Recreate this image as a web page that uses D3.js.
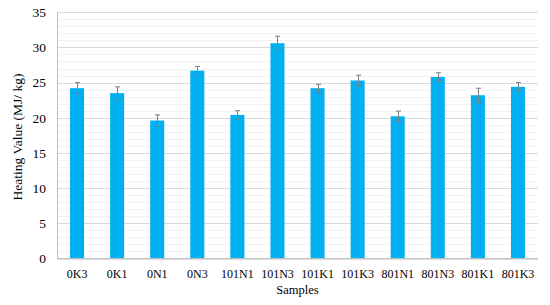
<!DOCTYPE html>
<html><head><meta charset="utf-8">
<script src="https://cdn.jsdelivr.net/npm/d3@7"></script>
<style>body{margin:0;background:#fff}svg{display:block}</style>
</head><body>
<script>
const categories = ["0K3","0K1","0N1","0N3","101N1","101N3","101K1","101K3","801N1","801N3","801K1","801K3"];
const values = [24.2,23.5,19.6,26.7,20.4,30.6,24.2,25.3,20.2,25.8,23.2,24.4];
const errors = [0.8,0.9,0.8,0.6,0.6,1.0,0.55,0.75,0.75,0.6,1.0,0.6];
const yTicks = [0,5,10,15,20,25,30,35];

const W=550,H=305;
const m={left:57,right:12,top:12.3,bottom:46.7};
const svg=d3.select("body").append("svg").attr("width",W).attr("height",H);
const x=d3.scaleBand().domain(categories).range([m.left,W-m.right]).paddingInner(0.65).paddingOuter(0.325);
const y=d3.scaleLinear().domain([0,35]).range([H-m.bottom,m.top]);
const font="'Liberation Serif','Times New Roman',serif";

// minor gridlines
svg.append("g").selectAll("line").data(d3.range(1,36).filter(v=>v%5!==0)).join("line")
  .attr("x1",m.left).attr("x2",W-m.right).attr("y1",d=>Math.round(y(d))+0.5).attr("y2",d=>Math.round(y(d))+0.5)
  .attr("stroke","#F2F2F2").attr("stroke-width",1);
// major gridlines
svg.append("g").selectAll("line").data(yTicks.filter(v=>v>0)).join("line")
  .attr("x1",m.left).attr("x2",W-m.right).attr("y1",d=>Math.round(y(d))+0.5).attr("y2",d=>Math.round(y(d))+0.5)
  .attr("stroke","#D9D9D9").attr("stroke-width",1);

// bars
svg.append("g").selectAll("rect").data(categories).join("rect")
  .attr("x",(d)=>x(d)).attr("width",x.bandwidth())
  .attr("y",(d,i)=>y(values[i])).attr("height",(d,i)=>y(0)-y(values[i]))
  .attr("fill","#00B0F0");

// error bars
const eg=svg.append("g").attr("stroke","#7F7F7F").attr("stroke-width",1);
categories.forEach((c,i)=>{
  const cx=Math.round(x(c)+x.bandwidth()/2)+0.5;
  eg.append("line").attr("x1",cx).attr("x2",cx).attr("y1",y(values[i]+errors[i])).attr("y2",y(values[i]-errors[i]));
  eg.append("line").attr("x1",cx-2.5).attr("x2",cx+2.5).attr("y1",y(values[i]+errors[i])).attr("y2",y(values[i]+errors[i]));
  eg.append("line").attr("x1",cx-2.5).attr("x2",cx+2.5).attr("y1",y(values[i]-errors[i])).attr("y2",y(values[i]-errors[i]));
});

// axes lines
svg.append("line").attr("x1",m.left+0.5).attr("x2",m.left+0.5).attr("y1",m.top).attr("y2",y(0)).attr("stroke","#BFBFBF");
svg.append("line").attr("x1",m.left).attr("x2",W-m.right).attr("y1",y(0)+0.5).attr("y2",y(0)+0.5).attr("stroke","#BFBFBF").attr("stroke-width",1.5);

// y tick labels
const yAxis=d3.axisLeft(y).tickValues(yTicks).tickSize(0).tickPadding(11);
const ya=svg.append("g").attr("transform",`translate(${m.left},0)`).call(yAxis);
ya.select(".domain").remove();
ya.selectAll("text").attr("font-family",font).attr("font-size",13.5).attr("fill","#000");

// x tick labels
const xAxis=d3.axisBottom(x).tickSize(0).tickPadding(11);
const xa=svg.append("g").attr("transform",`translate(0,${y(0)})`).call(xAxis);
xa.select(".domain").remove();
xa.selectAll("text").attr("font-family",font).attr("font-size",12).attr("fill","#000");

// axis titles
svg.append("text").attr("x",(m.left+W-m.right)/2).attr("y",293.5).attr("text-anchor","middle")
  .attr("font-family",font).attr("font-size",12.5).text("Samples");
svg.append("text").attr("transform",`translate(21.5,137) rotate(-90)`).attr("text-anchor","middle")
  .attr("font-family",font).attr("font-size",13.5).text("Heating Value (MJ/ kg)");
</script>
</body></html>
